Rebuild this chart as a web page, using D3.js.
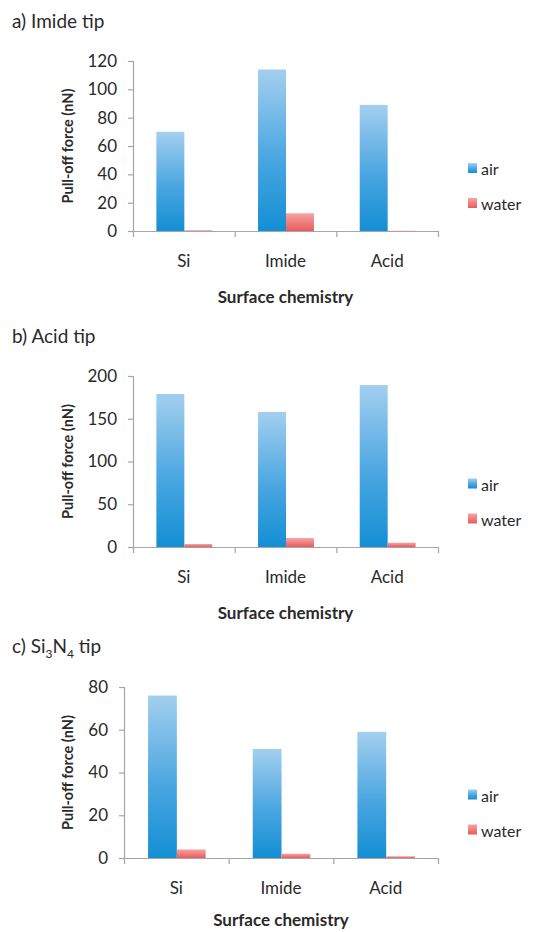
<!DOCTYPE html>
<html><head><meta charset="utf-8">
<script src="https://cdn.jsdelivr.net/npm/d3@7"></script>
<style>
html,body{margin:0;padding:0;background:#fff;}
svg{display:block;font-family:Lato,"Open Sans",sans-serif;}
</style></head>
<body>
<svg id="chart" width="545" height="932"></svg>
<script>
const categories = ["Si", "Imide", "Acid"];
const seriesNames = ["air", "water"];

const airImideTip = [70, 114, 89];
const waterImideTip = [0.5, 12.5, 0.2];
const ticksImideTip = [0, 20, 40, 60, 80, 100, 120];

const airAcidTip = [179, 158, 189.5];
const waterAcidTip = [3.5, 10.5, 5];
const ticksAcidTip = [0, 50, 100, 150, 200];

const airSiNTip = [76, 51, 59];
const waterSiNTip = [4, 2, 0.8];
const ticksSiNTip = [0, 20, 40, 60, 80];

const panels = [
  {title: [["a) Imide tip", null]], air: airImideTip, water: waterImideTip, ticks: ticksImideTip,
   titleY: 28, left: 133, right: 438, top: 61, bottom: 231},
  {title: [["b) Acid tip", null]], air: airAcidTip, water: waterAcidTip, ticks: ticksAcidTip,
   titleY: 343, left: 133, right: 438, top: 376, bottom: 547},
  {title: [["c) Si", null], ["3", "sub"], ["N", null], ["4", "sub"], [" tip", null]], air: airSiNTip, water: waterSiNTip, ticks: ticksSiNTip,
   titleY: 653, left: 124, right: 438, top: 687, bottom: 858}
];

const svg = d3.select("#chart");
const defs = svg.append("defs");
function grad(id, stops) {
  const g = defs.append("linearGradient").attr("id", id)
    .attr("x1", 0).attr("y1", 0).attr("x2", 0).attr("y2", 1);
  stops.forEach(s => g.append("stop").attr("offset", s[0]).attr("stop-color", s[1]));
}
grad("gAir", [[0, "#a3cfef"], [0.55, "#4aa6e1"], [1, "#138fd4"]]);
grad("gWater", [[0, "#f7a3a3"], [1, "#e85b5c"]]);
const fillFor = {air: "url(#gAir)", water: "url(#gWater)"};
const axisColor = "#a6a6a6";
const textColor = "#2a2a2a";

panels.forEach(p => {
  const g = svg.append("g");
  // title
  const t = g.append("text").attr("x", 12).attr("y", p.titleY)
    .attr("font-size", 19).attr("fill", textColor);
  p.title.forEach(([txt, kind]) => {
    const ts = t.append("tspan").text(txt);
    if (kind === "sub") ts.attr("font-size", 12).attr("baseline-shift", "-5");
  });

  const maxV = p.ticks[p.ticks.length - 1];
  const y = d3.scaleLinear().domain([0, maxV]).range([p.bottom, p.top]);
  const x0 = d3.scaleBand().domain(categories).range([p.left, p.right]).padding(0);
  const bw = x0.bandwidth();
  const x1 = d3.scaleBand().domain(seriesNames).range([bw * 0.23, bw * 0.78]).padding(0);

  const data = categories.map((c, i) => ({cat: c, vals: [
    {s: "air", v: p.air[i]}, {s: "water", v: p.water[i]}]}));

  const groups = g.selectAll("g.cat").data(data).enter().append("g")
    .attr("transform", d => `translate(${x0(d.cat)},0)`);
  groups.selectAll("rect").data(d => d.vals).enter().append("rect")
    .attr("x", d => x1(d.s)).attr("width", x1.bandwidth())
    .attr("y", d => y(d.v)).attr("height", d => p.bottom - y(d.v))
    .attr("fill", d => fillFor[d.s]);

  // y axis
  const ya = g.append("g").attr("transform", `translate(${p.left},0)`)
    .call(d3.axisLeft(y).tickValues(p.ticks).tickSizeOuter(0).tickSize(5).tickPadding(11));
  ya.selectAll("line,path").attr("stroke", axisColor).attr("stroke-width", 1.2);
  ya.selectAll("text").attr("font-size", 17).attr("fill", textColor).attr("font-family", "Lato");

  // x axis boundary ticks
  const xb = d3.scaleLinear().domain([0, categories.length]).range([p.left, p.right]);
  const xa = g.append("g").attr("transform", `translate(0,${p.bottom})`)
    .call(d3.axisBottom(xb).tickValues(d3.range(categories.length + 1)).tickFormat("").tickSize(6).tickSizeOuter(0));
  xa.selectAll("line,path").attr("stroke", axisColor).attr("stroke-width", 1.2);

  // category labels
  const xl = g.append("g").attr("transform", `translate(0,${p.bottom})`)
    .call(d3.axisBottom(x0).tickSize(0).tickPadding(24));
  xl.select(".domain").remove();
  xl.selectAll("text").attr("font-size", 17).attr("fill", textColor).attr("font-family", "Lato");

  // axis titles
  const cy = (p.top + p.bottom) / 2;
  g.append("text").attr("transform", `translate(73,${cy}) rotate(-90)`)
    .attr("text-anchor", "middle").attr("font-size", 14.5).attr("font-weight", "bold")
    .attr("fill", textColor).text("Pull-off force (nN)");
  g.append("text").attr("x", (p.left + p.right) / 2).attr("y", Math.min(p.bottom + 72, 926))
    .attr("text-anchor", "middle").attr("font-size", 17).attr("font-weight", "bold")
    .attr("fill", textColor).text("Surface chemistry");

  // legend
  seriesNames.forEach((s, i) => {
    const ly = cy + 22 + i * 35;
    g.append("rect").attr("x", 468).attr("y", ly - 5).attr("width", 9).attr("height", 10)
      .attr("fill", fillFor[s]);
    g.append("text").attr("x", 481).attr("y", ly + 7).attr("font-size", 16)
      .attr("fill", textColor).text(s);
  });
});
</script>
</body></html>
